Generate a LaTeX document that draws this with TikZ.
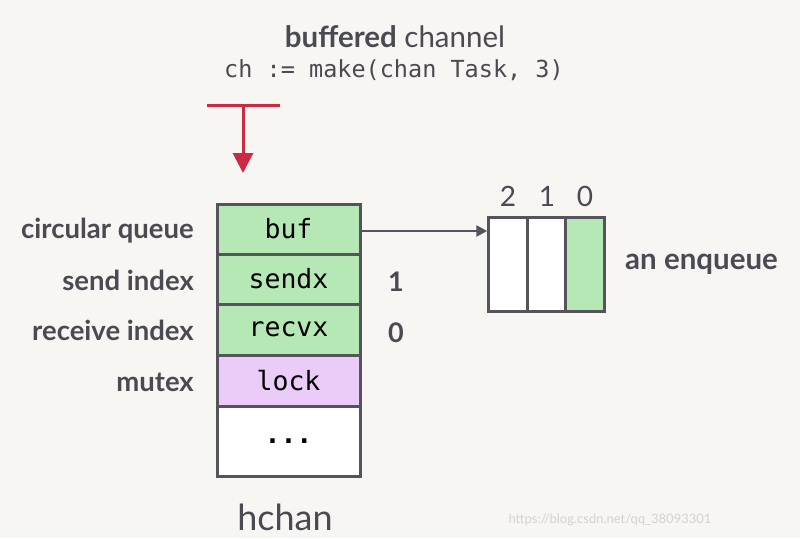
\documentclass[tikz,border=0pt]{standalone}
\usepackage{fontspec}
\setmainfont{Lato}
\setmonofont{DejaVu Sans Mono}
\usetikzlibrary{arrows.meta}
\definecolor{bg}{HTML}{F8F6F2}
\definecolor{edge}{HTML}{55545C}
\definecolor{txt}{HTML}{4B4A53}
\definecolor{grn}{HTML}{B5E8B5}
\definecolor{lav}{HTML}{EBCCF8}
\definecolor{redc}{HTML}{CC2A42}
\tikzset{
  cell/.style={draw=edge, line width=3pt, rectangle, inner sep=0pt, minimum width=143pt,
    font=\ttfamily\fontsize{26.5}{30}\selectfont, text=black},
  qcell/.style={draw=edge, line width=3pt, rectangle, inner sep=0pt, minimum width=38.5pt, minimum height=94pt},
  lbl/.style={anchor=east, text=txt, font=\bfseries\fontsize{27.5}{32}\selectfont, inner sep=0pt},
  num/.style={text=txt, font=\fontsize{28}{32}\selectfont, inner sep=0pt},
}
\begin{document}
\begin{tikzpicture}[x=1pt,y=-1pt]
\fill[bg] (0,0) rectangle (800,538);
\useasboundingbox (0,0) rectangle (800,538);
\node[text=txt, font=\fontsize{29.5}{34}\selectfont, inner sep=0pt] (title) at (395,37) {\textbf{buffered} channel};
\node[text=txt, font=\ttfamily\fontsize{23.5}{28}\selectfont, inner sep=0pt] (code) at (394,70) {ch := make(chan Task, 3)};
% red T arrow
\coordinate (tl) at (207,105);
\coordinate (tr) at (280,105);
\coordinate (tm) at (243,105);
\coordinate (tip) at (243,173);
\draw[redc, line width=3pt] (tl) -- (tr);
\draw[redc, line width=3pt, -{Triangle[length=20pt,width=20pt]}] (tm) -- (tip);
% hchan rows
\node[cell, fill=grn, minimum height=50pt] (buf) at (288.5,229) {buf};
\node[cell, fill=grn, minimum height=50pt] (sendx) at (288.5,279) {sendx};
\node[cell, fill=grn, minimum height=51pt] (recvx) at (288.5,329.5) {recvx};
\node[cell, fill=lav, minimum height=51pt] (lock) at (288.5,380.5) {lock};
\node[cell, fill=white, minimum height=70pt] (dots) at (288.5,441) {\textbf{...}};
% left labels
\node[lbl] (l1) at (194,231) {circular queue};
\node[lbl] (l2) at (194,280) {send index};
\node[lbl] (l3) at (194,330) {receive index};
\node[lbl] (l4) at (194,382) {mutex};
% index values
\node[num, font=\bfseries\fontsize{27}{32}\selectfont] (v1) at (396,282) {1};
\node[num, font=\bfseries\fontsize{27}{32}\selectfont] (v0) at (396,333) {0};
% queue
\node[qcell, fill=white] (q2) at (508,264) {};
\node[qcell, fill=white] (q1) at (546.5,264) {};
\node[qcell, fill=grn] (q0) at (585,264) {};
\node[num, anchor=south] (i2) at (508,207) {2};
\node[num, anchor=south] (i1) at (547,207) {1};
\node[num, anchor=south] (i0) at (585,207) {0};
\node[text=txt, font=\bfseries\fontsize{29.5}{34}\selectfont, anchor=west, inner sep=0pt] (enq) at (625,264) {an enqueue};
% arrow buf -> queue
\draw[edge, line width=2.5pt, -{Triangle[length=11pt,width=11pt]}] (buf.east |- 0,231) -- (q2.west |- 0,231);
% bottom
\node[text=txt, font=\fontsize{36}{40}\selectfont, inner sep=0pt, anchor=base] (hchan) at (285,530) {hchan};
\node[text=gray!35, font=\fontsize{13}{15}\selectfont, inner sep=0pt] (wm) at (610,520) {https://blog.csdn.net/qq\_38093301};
\end{tikzpicture}
\end{document}
